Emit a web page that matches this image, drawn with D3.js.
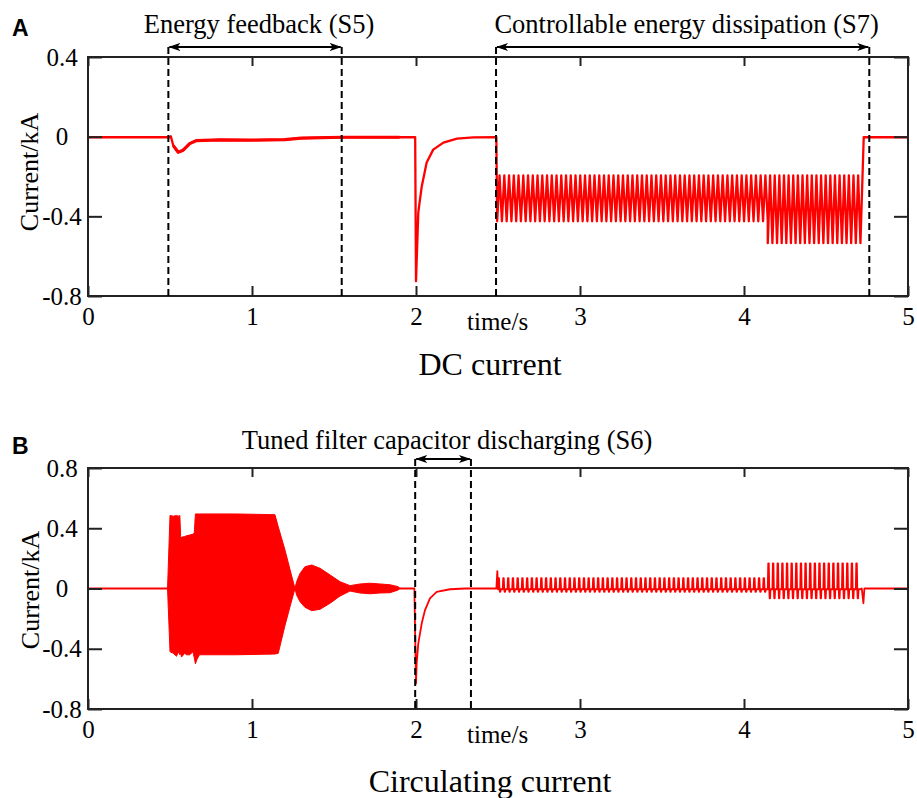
<!DOCTYPE html>
<html>
<head>
<meta charset="utf-8">
<script src="https://cdn.jsdelivr.net/npm/d3@7"></script>
<style>
body { margin: 0; background: #fff; }
svg { display: block; }
</style>
</head>
<body>
<svg width="917" height="798"></svg>
<script>
// ---- data ----
const xTicks = [0, 1, 2, 3, 4, 5];
const dcYTicks = [-0.8, -0.4, 0, 0.4];
const ccYTicks = [-0.8, -0.4, 0, 0.4, 0.8];

// A: DC current, smooth part before the chopper
const dcTime = [0, 0.5, 0.505, 0.52, 0.55, 0.58, 0.62, 0.66, 0.8, 1.0, 1.2, 1.3, 1.55, 1.9, 1.995, 2.0, 2.014, 2.035, 2.065, 2.105, 2.167, 2.25, 2.35, 2.49];
const dcValue = [-0.003, -0.003, 0.002, -0.045, -0.078, -0.068, -0.035, -0.02, -0.016, -0.017, -0.015, -0.007, -0.003, -0.003, -0.003, -0.726, -0.38, -0.25, -0.13, -0.065, -0.03, -0.01, -0.004, -0.003];
// chopper ripple (S7): start, end, number of teeth, top and bottom of the teeth
const dcPulseStart = [2.495, 4.145];
const dcPulseEnd = [4.145, 4.71];
const dcPulseCount = [57, 20];
const dcPulseHigh = [-0.195, -0.195];
const dcPulseLow = [-0.425, -0.535];
const dcTailTime = [4.73, 5];
const dcTailValue = [-0.003, -0.003];
// noisy (thicker) stretch of the trace
const dcNoisyFrom = 0.52, dcNoisyTo = 1.9;

// B: circulating current
const ccHeadTime = [0, 0.485];
const ccHeadValue = [0, 0];
// dense oscillation shown by its envelope
const ccEnvTime = [0.485, 0.5, 0.52, 0.54, 0.55, 0.56, 0.565, 0.57, 0.59, 0.6, 0.62, 0.64, 0.648, 0.655, 0.665, 0.68, 0.9, 1.14, 1.16, 1.2, 1.232, 1.262, 1.272, 1.293, 1.323, 1.364, 1.415, 1.476, 1.537, 1.598, 1.659, 1.72, 1.78, 1.841, 1.892, 1.9];
const ccEnvHigh = [0, 0.485, 0.48, 0.485, 0.48, 0.485, 0.345, 0.34, 0.345, 0.35, 0.355, 0.36, 0.37, 0.495, 0.495, 0.495, 0.495, 0.49, 0.41, 0.26, 0.125, 0, 0.045, 0.1, 0.145, 0.156, 0.134, 0.09, 0.045, 0.019, 0.03, 0.035, 0.03, 0.025, 0.012, 0];
const ccEnvLow = [0, -0.42, -0.43, -0.45, -0.42, -0.44, -0.43, -0.455, -0.43, -0.44, -0.44, -0.42, -0.46, -0.5, -0.47, -0.44, -0.44, -0.435, -0.43, -0.25, -0.12, 0, -0.043, -0.088, -0.125, -0.147, -0.138, -0.098, -0.05, -0.017, -0.03, -0.035, -0.03, -0.028, -0.01, 0];
const ccMidTime = [1.9, 1.99, 2.0, 2.004, 2.014, 2.035, 2.055, 2.085, 2.126, 2.207, 2.3, 2.49, 2.496, 2.5];
const ccMidValue = [0, 0, -0.63, -0.497, -0.364, -0.231, -0.143, -0.065, -0.023, -0.005, 0, 0, 0.116, -0.005];
// comb of spikes: start, end, count, spike top, spike bottom, resting level
const ccPulseStart = [2.5, 4.145];
const ccPulseEnd = [4.145, 4.71];
const ccPulseCount = [57, 20];
const ccPulseHigh = [0.068, 0.167];
const ccPulseLow = [-0.022, -0.065];
const ccPulseRest = [-0.005, -0.005];
const ccTailTime = [4.718, 4.728, 4.734, 5];
const ccTailValue = [0, -0.098, 0, 0];

// marked intervals
const dcSpanStart = [0.49, 2.488];
const dcSpanEnd = [1.547, 4.764];
const dcSpanLabel = ["Energy feedback (S5)", "Controllable energy dissipation (S7)"];
const ccSpanStart = [1.995];
const ccSpanEnd = [2.335];
const ccSpanLabel = ["Tuned filter capacitor discharging (S6)"];

// ---- drawing ----
const serif = "Liberation Serif, Times New Roman, serif";
const svg = d3.select("svg").attr("font-family", serif);
const red = "#ff0000";
const x = d3.scaleLinear().domain([0, 5]).range([88, 908]);

const zip = (t, v) => t.map((d, i) => [d, v[i]]);

// triangle teeth between lo and hi
function sawTeeth(start, end, count, hi, lo) {
	const step = (end - start) / count;
	const pts = [];
	for (let i = 0; i < count; i++) {
		const t = start + i * step;
		pts.push([t, lo], [t + 0.5 * step, hi]);
	}
	pts.push([end, lo]);
	return pts;
}

// narrow up/down spikes around a resting level
function spikeTeeth(start, end, count, hi, lo, rest) {
	const step = (end - start) / count;
	const pts = [];
	for (let i = 0; i < count; i++) {
		const t = start + i * step;
		pts.push([t, rest], [t + 0.1 * step, hi], [t + 0.22 * step, hi], [t + 0.32 * step, rest],
			[t + 0.4 * step, lo], [t + 0.5 * step, lo], [t + 0.58 * step, rest]);
	}
	pts.push([end, rest]);
	return pts;
}

const defs = svg.append("defs");
defs.append("marker")
	.attr("id", "arrow")
	.attr("viewBox", "0 0 12 8")
	.attr("refX", 11)
	.attr("refY", 4)
	.attr("markerWidth", 12)
	.attr("markerHeight", 8)
	.attr("markerUnits", "userSpaceOnUse")
	.attr("orient", "auto-start-reverse")
	.append("path")
	.attr("d", "M0,0 L12,4 L0,8 L3,4 Z")
	.attr("fill", "#000");

function styleAxis(a) {
	a.select(".domain").remove();
	a.attr("font-family", serif).attr("font-size", 25);
	a.selectAll(".tick line").attr("stroke", "#222").attr("stroke-width", 2);
	a.selectAll(".tick text").attr("fill", "#000");
}

function drawFrame(y, yTicks, top, bottom) {
	const g = svg.append("g");
	g.append("g")
		.attr("transform", `translate(0,${bottom})`)
		.call(d3.axisBottom(x).tickValues(xTicks).tickSizeInner(-10).tickSizeOuter(0).tickPadding(11.5).tickFormat(d3.format("d")))
		.call(styleAxis);
	g.append("g")
		.attr("transform", `translate(0,${top})`)
		.call(d3.axisTop(x).tickValues(xTicks).tickSizeInner(-9).tickSizeOuter(0).tickFormat(""))
		.call(styleAxis);
	g.append("g")
		.attr("transform", `translate(${x.range()[0]},0)`)
		.call(d3.axisLeft(y).tickValues(yTicks).tickSizeInner(-14).tickSizeOuter(0).tickFormat((d) => (d === 0 ? "0" : String(d))))
		.call(styleAxis)
		.call((a) => a.selectAll("text").attr("text-anchor", "middle").attr("x", -26));
	g.append("g")
		.attr("transform", `translate(${x.range()[1]},0)`)
		.call(d3.axisRight(y).tickValues(yTicks).tickSizeInner(-14).tickSizeOuter(0).tickFormat(""))
		.call(styleAxis);
	g.append("rect")
		.attr("x", x.range()[0])
		.attr("y", top)
		.attr("width", x.range()[1] - x.range()[0])
		.attr("height", bottom - top)
		.attr("fill", "none")
		.attr("stroke", "#222")
		.attr("stroke-width", 2);
}

function drawSpans(starts, ends, labels, arrowY, labelY, bottom) {
	starts.forEach((s, i) => {
		const e = ends[i];
		[s, e].forEach((t) => {
			svg.append("line")
				.attr("x1", x(t)).attr("x2", x(t))
				.attr("y1", arrowY).attr("y2", bottom)
				.attr("stroke", "#000")
				.attr("stroke-width", 2)
				.attr("stroke-dasharray", "7 4");
		});
		svg.append("line")
			.attr("x1", x(s) + 1).attr("x2", x(e) - 1)
			.attr("y1", arrowY).attr("y2", arrowY)
			.attr("stroke", "#000")
			.attr("stroke-width", 2)
			.attr("marker-start", "url(#arrow)")
			.attr("marker-end", "url(#arrow)");
		svg.append("text")
			.attr("x", (x(s) + x(e)) / 2 + 4)
			.attr("y", labelY)
			.attr("text-anchor", "middle")
			.attr("font-size", 26.5)
			.text(labels[i]);
	});
}

function panelText(letter, letterY, yLabelX, yLabelY, timeY, title, titleY) {
	svg.append("text")
		.attr("x", 12).attr("y", letterY)
		.attr("font-family", "Liberation Sans, Arial, sans-serif")
		.attr("font-weight", "bold")
		.attr("font-size", 23)
		.text(letter);
	svg.append("text")
		.attr("transform", `translate(${yLabelX},${yLabelY}) rotate(-90)`)
		.attr("text-anchor", "middle")
		.attr("font-size", 26)
		.text("Current/kA");
	svg.append("text")
		.attr("x", 467).attr("y", timeY)
		.attr("font-size", 25)
		.text("time/s");
	svg.append("text")
		.attr("x", 490).attr("y", titleY)
		.attr("text-anchor", "middle")
		.attr("font-size", 32)
		.text(title);
}

// ---- panel A ----
const yA = d3.scaleLinear().domain([-0.8, 0.4]).range([296, 57]);
const lineA = d3.line().x((d) => x(d[0])).y((d) => yA(d[1]));
let dcSeries = zip(dcTime, dcValue);
dcPulseStart.forEach((s, i) => {
	dcSeries = dcSeries.concat(sawTeeth(s, dcPulseEnd[i], dcPulseCount[i], dcPulseHigh[i], dcPulseLow[i]));
});
dcSeries = dcSeries.concat(zip(dcTailTime, dcTailValue));

svg.append("path")
	.datum(dcSeries)
	.attr("d", lineA)
	.attr("fill", "none")
	.attr("stroke", red)
	.attr("stroke-width", 2.3)
	.attr("stroke-linejoin", "round");
svg.append("path")
	.datum(zip(dcTime, dcValue).filter((d) => d[0] >= dcNoisyFrom && d[0] <= dcNoisyTo))
	.attr("d", lineA)
	.attr("fill", "none")
	.attr("stroke", red)
	.attr("stroke-width", 3.2)
	.attr("stroke-linejoin", "round");

drawFrame(yA, dcYTicks, 57, 296);
drawSpans(dcSpanStart, dcSpanEnd, dcSpanLabel, 47, 32.5, 296);
panelText("A", 36, 38, 172, 330, "DC current", 375);

// ---- panel B ----
const yB = d3.scaleLinear().domain([-0.8, 0.8]).range([709, 468]);
const lineB = d3.line().x((d) => x(d[0])).y((d) => yB(d[1]));
const areaB = d3.area().x((d) => x(d.t)).y0((d) => yB(d.lo)).y1((d) => yB(d.hi));
const envelope = ccEnvTime.map((t, i) => ({ t: t, hi: ccEnvHigh[i], lo: ccEnvLow[i] }));

let ccSeries = zip(ccHeadTime, ccHeadValue).concat(zip(ccMidTime, ccMidValue));
ccPulseStart.forEach((s, i) => {
	ccSeries = ccSeries.concat(spikeTeeth(s, ccPulseEnd[i], ccPulseCount[i], ccPulseHigh[i], ccPulseLow[i], ccPulseRest[i]));
});
ccSeries = ccSeries.concat(zip(ccTailTime, ccTailValue));

svg.append("path")
	.datum(envelope)
	.attr("d", areaB)
	.attr("fill", red)
	.attr("stroke", red)
	.attr("stroke-width", 1);
svg.append("path")
	.datum(ccSeries)
	.attr("d", lineB)
	.attr("fill", "none")
	.attr("stroke", red)
	.attr("stroke-width", 1.8)
	.attr("stroke-linejoin", "round");

drawFrame(yB, ccYTicks, 468, 709);
drawSpans(ccSpanStart, ccSpanEnd, ccSpanLabel, 459, 448.5, 709);
panelText("B", 454, 39, 590, 743, "Circulating current", 792);
</script>
</body>
</html>
